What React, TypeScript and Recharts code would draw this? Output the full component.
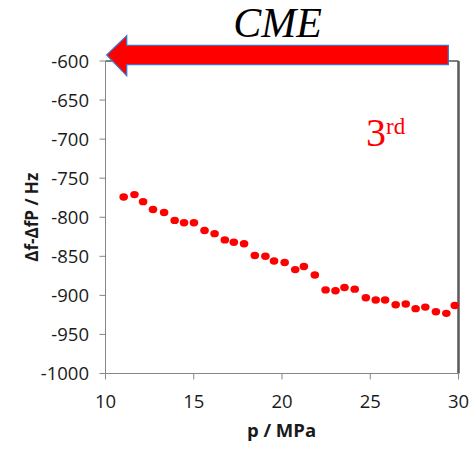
import React from 'react';
import {
  ScatterChart,
  Scatter,
  XAxis,
  YAxis,
  ReferenceLine,
} from 'recharts';

// Pressure (MPa) and corresponding frequency shift difference (Hz)
const pressure = [
  11.03, 11.64, 12.13, 12.69, 13.32, 13.92, 14.45, 15.01, 15.61, 16.18,
  16.76, 17.27, 17.85, 18.46, 19.06, 19.55, 20.15, 20.75, 21.24, 21.86,
  22.47, 23.03, 23.54, 24.12, 24.75, 25.31, 25.84, 26.44, 27.01, 27.57,
  28.12, 28.72, 29.31, 29.79,
];
const deltaF = [
  -774, -771, -780, -790, -794, -804, -807, -807, -817, -821,
  -829, -832, -834, -849, -850, -856, -858, -867, -863, -874,
  -893, -894, -890, -892, -903, -906, -906, -912, -911, -917,
  -915, -921, -923, -913,
];

const xTicks = [10, 15, 20, 25, 30];
const yTicks = [-1000, -950, -900, -850, -800, -750, -700, -650, -600];

const title = 'CME';
const overtone = '3';
const overtoneSuffix = 'rd';
const xLabel = 'p / MPa';
const yLabel = 'Δf-ΔfP / Hz';

const points = pressure.map((p, i) => ({ p, df: deltaF[i] }));

const W = 476;
const H = 449;
const tickFont = { fontFamily: 'Open Sans', fontSize: 18.5, fill: '#1a1a1a' };
const axisGray = '#868686';

const Dot = (props: any) => {
  const { cx, cy } = props;
  if (cx == null || cy == null) return null;
  return <ellipse cx={cx} cy={cy} rx={4.3} ry={3.7} fill="#ff0000" />;
};

export default function App() {
  return (
    <div style={{ position: 'absolute', left: 0, top: 0, width: W, height: H, background: '#fff' }}>
      <ScatterChart
        width={W}
        height={H}
        margin={{ top: 61, right: 17.5, bottom: 0, left: 0 }}
      >
        <XAxis
          type="number"
          dataKey="p"
          domain={[10, 30]}
          ticks={xTicks}
          height={75.5}
          stroke={axisGray}
          tickLine={{ stroke: axisGray }}
          tickSize={6}
          tickMargin={15.5}
          tick={tickFont}
          label={(props: any) => {
            const vb = props.viewBox;
            return (
              <text
                x={vb.x + vb.width / 2 - 0.5}
                y={437.3}
                textAnchor="middle"
                fontFamily="Open Sans"
                fontWeight="bold"
                fontSize={18.5}
                fill="#1a1a1a"
              >
                {xLabel}
              </text>
            );
          }}
        />
        <YAxis
          type="number"
          dataKey="df"
          domain={[-1000, -600]}
          ticks={yTicks}
          width={105.5}
          stroke={axisGray}
          tickLine={{ stroke: axisGray }}
          tickSize={6}
          tickMargin={10.5}
          tick={tickFont}
          label={(props: any) => {
            const vb = props.viewBox;
            const cy = vb.y + vb.height / 2;
            return (
              <text
                x={38}
                y={cy}
                transform={`rotate(-90, 38, ${cy})`}
                textAnchor="middle"
                fontFamily="Open Sans"
                fontWeight="bold"
                fontSize={17}
                fill="#1a1a1a"
              >
                {yLabel}
              </text>
            );
          }}
        />
        <ReferenceLine y={-600} stroke="#000" strokeWidth={1} />
        <ReferenceLine x={30} stroke="#595959" strokeWidth={2.5} />
        <Scatter data={points} shape={Dot} isAnimationActive={false} />
      </ScatterChart>
      <svg
        width={W}
        height={H}
        style={{ position: 'absolute', left: 0, top: 0, pointerEvents: 'none' }}
      >
        <polygon
          points="106.7,55 126.7,35.7 126.7,45.3 448.3,45.3 448.3,64.7 126.7,64.7 126.7,75.7"
          fill="#ff0000"
          stroke="#4472c4"
          strokeWidth={1.3}
        />
        <text
          x={277.5}
          y={37.3}
          textAnchor="middle"
          fontFamily="Liberation Serif"
          fontStyle="italic"
          fontSize={42}
          fill="#000"
        >
          {title}
        </text>
        <text x={366} y={145.7} fontFamily="Liberation Serif" fontSize={40} fill="#ff0000">
          {overtone}
          <tspan fontSize={23} dy={-11.4}>
            {overtoneSuffix}
          </tspan>
        </text>
      </svg>
    </div>
  );
}
